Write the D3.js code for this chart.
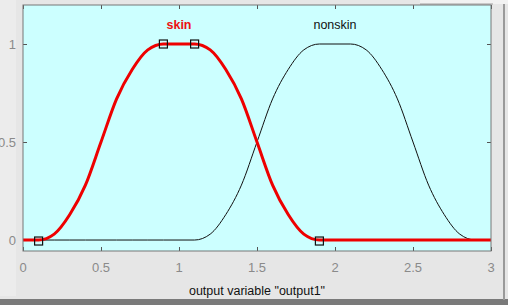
<!DOCTYPE html>
<html>
<head>
    <script src="https://d3js.org/d3.v7.min.js"></script>
    <style>
        body { margin: 0; background: #e6e6e6; }
    </style>
</head>
<body>
    <div id="chart" style="width: 508px; height: 305px;"></div>

    <script>
        // values, x step 0.1
        var xs = [0, 0.1, 0.2, 0.3, 0.4, 0.5, 0.6, 0.7, 0.8, 0.9, 1.0,
            1.1, 1.2, 1.3, 1.4, 1.5, 1.6, 1.7, 1.8, 1.9, 2.0,
            2.1, 2.2, 2.3, 2.4, 2.5, 2.6, 2.7, 2.8, 2.9, 3.0];
        var skin = [0, 0, 0.03, 0.13, 0.28, 0.5, 0.72, 0.87, 0.97, 1, 1,
            1, 0.97, 0.87, 0.72, 0.5, 0.28, 0.13, 0.03, 0, 0,
            0, 0, 0, 0, 0, 0, 0, 0, 0, 0];
        var nonskin = [0, 0, 0, 0, 0, 0, 0, 0, 0, 0, 0,
            0, 0.03, 0.13, 0.28, 0.5, 0.72, 0.87, 0.97, 1, 1,
            1, 0.97, 0.87, 0.72, 0.5, 0.28, 0.13, 0.03, 0, 0];
        var skinParams = [0.1, 0.9, 1.1, 1.9];
        var skinParamY = [0, 1, 1, 0];
        var xTicks = [0, 0.5, 1, 1.5, 2, 2.5, 3];
        var yTicks = [0, 0.5, 1];
        var labels = [
            { name: "skin", x: 1.0, y: 1.1 },
            { name: "nonskin", x: 2.0, y: 1.1 }
        ];

        var width = 508, height = 305;
        var mLeft = 23, mRight = 491, mTop = 5, mBottom = 251;

        var svg = d3.select("#chart")
            .append("svg")
            .attr("width", width)
            .attr("height", height)
            .style("font-family", "Arial, 'Liberation Sans', sans-serif");

        // window frame bits
        svg.append("rect").attr("x", 0).attr("y", 0).attr("width", width).attr("height", height).attr("fill", "#e6e6e6");
        svg.append("rect").attr("x", 0).attr("y", 0).attr("width", 16).attr("height", 296).attr("fill", "#ececec");
        svg.append("rect").attr("x", 0).attr("y", 299).attr("width", width).attr("height", 6).attr("fill", "#7a7a7a");
        svg.append("rect").attr("x", 503).attr("y", 0).attr("width", 2).attr("height", 300).attr("fill", "#9a9a9a");
        svg.append("rect").attr("x", 420).attr("y", 0).attr("width", 88).attr("height", 4).attr("fill", "#f2f2f2");
        svg.append("line").attr("x1", 420).attr("x2", 493).attr("y1", 4).attr("y2", 4).attr("stroke", "#a0a0a0");

        var x = d3.scaleLinear().domain([0, 3]).range([mLeft, mRight]);
        var y = d3.scaleLinear().domain([-0.056, 1.199]).range([mBottom, mTop]);

        svg.append("rect")
            .attr("x", mLeft).attr("y", mTop)
            .attr("width", mRight - mLeft).attr("height", mBottom - mTop)
            .attr("fill", "#ccffff");

        // ticks on all four sides, pointing inward
        var tickColor = "#555";
        svg.append("g").attr("transform", "translate(0," + mBottom + ")")
            .call(d3.axisTop(x).tickValues(xTicks).tickSize(4).tickFormat(""))
            .call(g => g.select(".domain").remove())
            .selectAll("line").attr("stroke", tickColor);
        svg.append("g").attr("transform", "translate(0," + mTop + ")")
            .call(d3.axisBottom(x).tickValues(xTicks).tickSize(4).tickFormat(""))
            .call(g => g.select(".domain").remove())
            .selectAll("line").attr("stroke", tickColor);
        svg.append("g").attr("transform", "translate(" + mLeft + ",0)")
            .call(d3.axisRight(y).tickValues(yTicks).tickSize(4).tickFormat(""))
            .call(g => g.select(".domain").remove())
            .selectAll("line").attr("stroke", tickColor);
        svg.append("g").attr("transform", "translate(" + mRight + ",0)")
            .call(d3.axisLeft(y).tickValues(yTicks).tickSize(4).tickFormat(""))
            .call(g => g.select(".domain").remove())
            .selectAll("line").attr("stroke", tickColor);

        // tick labels
        svg.append("g").selectAll("text")
            .data(xTicks)
            .join("text")
            .attr("x", d => x(d))
            .attr("y", 272)
            .attr("text-anchor", "middle")
            .attr("font-size", 13)
            .attr("fill", "#8a8a8a")
            .text(d => d);
        svg.append("g").selectAll("text")
            .data(yTicks)
            .join("text")
            .attr("x", 16)
            .attr("y", d => y(d) + 5)
            .attr("text-anchor", "end")
            .attr("font-size", 13)
            .attr("fill", "#8a8a8a")
            .text(d => d);

        svg.append("text")
            .attr("x", 257).attr("y", 295)
            .attr("text-anchor", "middle")
            .attr("font-size", 12.5)
            .attr("fill", "#111")
            .text('output variable "output1"');

        var pts = d3.zip(xs, skin);
        var pts2 = d3.zip(xs, nonskin);
        var line = d3.line()
            .x(d => x(d[0]))
            .y(d => y(d[1]))
            .curve(d3.curveMonotoneX);

        svg.append("path")
            .attr("d", line(pts2))
            .attr("fill", "none")
            .attr("stroke", "#111")
            .attr("stroke-width", 1);

        svg.append("path")
            .attr("d", line(pts))
            .attr("fill", "none")
            .attr("stroke", "#ee0000")
            .attr("stroke-width", 3);

        // parameter markers
        svg.append("g").selectAll("rect")
            .data(d3.zip(skinParams, skinParamY))
            .join("rect")
            .attr("x", d => x(d[0]) - 4)
            .attr("y", d => y(d[1]) - 4 + (d[1] == 0 ? 1 : 0))
            .attr("width", 8).attr("height", 8)
            .attr("fill", "none")
            .attr("stroke", "#111")
            .attr("stroke-width", 1.2);

        svg.append("g").selectAll("text")
            .data(labels)
            .join("text")
            .attr("x", d => x(d.x))
            .attr("y", d => y(d.y) + 5)
            .attr("text-anchor", "middle")
            .attr("font-size", 12.5)
            .attr("font-weight", d => d.name == "skin" ? "bold" : "normal")
            .attr("fill", d => d.name == "skin" ? "#ee1111" : "#111")
            .text(d => d.name);

        // plot frame
        svg.append("rect")
            .attr("x", mLeft).attr("y", mTop)
            .attr("width", mRight - mLeft).attr("height", mBottom - mTop)
            .attr("fill", "none")
            .attr("stroke", "#777");
    </script>
</body>
</html>
